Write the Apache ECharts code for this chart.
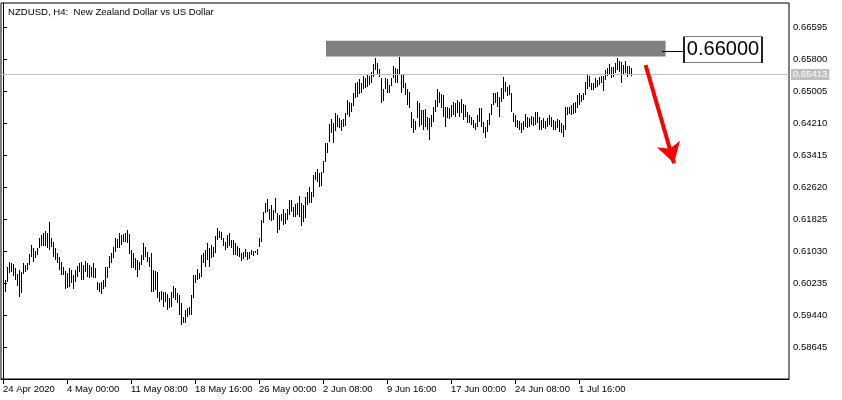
<!DOCTYPE html>
<html>
<head>
<meta charset="utf-8">
<script src="https://cdn.jsdelivr.net/npm/echarts@6/dist/echarts.min.js"></script>
<style>
html,body{margin:0;padding:0;background:#fff;}
#c{width:842px;height:400px;}
</style>
</head>
<body>
<div id="c"></div>
<script>
const chartTitle = 'NZDUSD, H4:  New Zealand Dollar vs US Dollar';
const xTickPos = [0, 32, 64, 96, 128, 160, 192, 224, 256, 288];
const xTickLabels = ['24 Apr 2020', '4 May 00:00', '11 May 08:00', '18 May 16:00', '26 May 00:00', '2 Jun 08:00', '9 Jun 16:00', '17 Jun 00:00', '24 Jun 08:00', '1 Jul 16:00'];
const yTicks = [0.58645, 0.59440, 0.60235, 0.61030, 0.61825, 0.62620, 0.63415, 0.64210, 0.65005, 0.65800, 0.66595];
const lastPrice = 0.65413;
const levelPrice = 0.66000;
const levelLabel = '0.66000';

const high = [
0.6019,0.6031,0.6063,0.6076,0.6073,0.6071,0.6061,0.6046,0.6056,0.6051,
0.6073,0.6068,0.6073,0.6096,0.6118,0.6111,0.6103,0.6111,0.6135,0.6143,
0.6148,0.6153,0.6148,0.6175,0.6135,0.6125,0.6111,0.6098,0.6088,0.6076,
0.6063,0.6053,0.6048,0.6061,0.6056,0.6043,0.6056,0.6066,0.6073,0.6076,
0.6068,0.6078,0.6073,0.6068,0.6063,0.6073,0.6061,0.6026,0.6024,0.6026,
0.6031,0.6063,0.6063,0.6091,0.6098,0.6113,0.6135,0.6133,0.6148,0.6143,
0.6145,0.6148,0.6155,0.6145,0.6106,0.6098,0.6086,0.6081,0.6076,0.6093,
0.6123,0.6113,0.6101,0.6088,0.6098,0.6056,0.6053,0.6051,0.6001,0.6004,
0.6001,0.6001,0.5996,0.5986,0.6001,0.6016,0.6011,0.5999,0.5994,0.5974,
0.5939,0.5957,0.5962,0.5964,0.5994,0.6043,0.6043,0.6058,0.6048,0.6093,
0.6098,0.6106,0.6123,0.6111,0.6118,0.6113,0.6140,0.6160,0.6153,0.6150,
0.6135,0.6125,0.6143,0.6148,0.6130,0.6130,0.6123,0.6116,0.6111,0.6098,
0.6101,0.6108,0.6101,0.6101,0.6106,0.6103,0.6103,0.6108,0.6135,0.6180,
0.6200,0.6222,0.6232,0.6207,0.6217,0.6205,0.6235,0.6198,0.6193,0.6195,
0.6207,0.6198,0.6207,0.6230,0.6230,0.6212,0.6220,0.6222,0.6240,0.6222,
0.6217,0.6237,0.6250,0.6262,0.6250,0.6292,0.6299,0.6307,0.6297,0.6299,
0.6327,0.6371,0.6371,0.6419,0.6431,0.6421,0.6446,0.6441,0.6433,0.6429,
0.6431,0.6446,0.6478,0.6473,0.6471,0.6496,0.6520,0.6523,0.6530,0.6520,
0.6538,0.6533,0.6540,0.6538,0.6548,0.6568,0.6583,0.6570,0.6555,0.6533,
0.6506,0.6533,0.6530,0.6515,0.6533,0.6563,0.6558,0.6555,0.6585,0.6540,
0.6540,0.6520,0.6506,0.6498,0.6448,0.6431,0.6426,0.6476,0.6471,0.6453,
0.6453,0.6456,0.6436,0.6433,0.6441,0.6461,0.6478,0.6506,0.6498,0.6493,
0.6491,0.6461,0.6461,0.6458,0.6466,0.6473,0.6471,0.6478,0.6473,0.6481,
0.6468,0.6466,0.6448,0.6441,0.6436,0.6429,0.6421,0.6441,0.6458,0.6458,
0.6424,0.6411,0.6429,0.6446,0.6468,0.6496,0.6496,0.6498,0.6486,0.6508,
0.6535,0.6523,0.6510,0.6515,0.6496,0.6446,0.6441,0.6429,0.6426,0.6421,
0.6426,0.6443,0.6436,0.6433,0.6438,0.6436,0.6448,0.6448,0.6436,0.6429,
0.6433,0.6426,0.6433,0.6441,0.6436,0.6429,0.6426,0.6431,0.6429,0.6421,
0.6416,0.6461,0.6461,0.6461,0.6466,0.6471,0.6473,0.6491,0.6496,0.6491,
0.6496,0.6523,0.6540,0.6538,0.6520,0.6520,0.6533,0.6528,0.6535,0.6538,
0.6538,0.6553,0.6558,0.6568,0.6560,0.6560,0.6570,0.6583,0.6575,0.6573,
0.6565,0.6575,0.6563,0.6563,0.6558
];
const low = [
0.5994,0.6001,0.6026,0.6048,0.6051,0.6041,0.6031,0.6016,0.5989,0.5999,
0.6046,0.6051,0.6056,0.6068,0.6088,0.6076,0.6086,0.6093,0.6111,0.6116,
0.6116,0.6116,0.6111,0.6106,0.6113,0.6088,0.6081,0.6073,0.6056,0.6043,
0.6043,0.6009,0.6011,0.6014,0.6024,0.6009,0.6026,0.6039,0.6051,0.6031,
0.6031,0.6051,0.6039,0.6036,0.6039,0.6036,0.6036,0.6006,0.6001,0.5996,
0.6009,0.6014,0.6036,0.6061,0.6073,0.6086,0.6101,0.6111,0.6111,0.6118,
0.6125,0.6125,0.6123,0.6096,0.6061,0.6061,0.6056,0.6039,0.6056,0.6068,
0.6081,0.6088,0.6076,0.6063,0.6001,0.6001,0.6006,0.5986,0.5976,0.5981,
0.5964,0.5976,0.5957,0.5962,0.5964,0.5986,0.5981,0.5974,0.5944,0.5919,
0.5924,0.5924,0.5939,0.5944,0.5944,0.5986,0.6024,0.6031,0.6034,0.6039,
0.6073,0.6063,0.6081,0.6063,0.6086,0.6088,0.6098,0.6130,0.6135,0.6130,
0.6116,0.6106,0.6111,0.6116,0.6111,0.6093,0.6093,0.6091,0.6088,0.6078,
0.6083,0.6088,0.6081,0.6083,0.6093,0.6091,0.6098,0.6093,0.6113,0.6125,
0.6173,0.6198,0.6200,0.6180,0.6178,0.6180,0.6198,0.6148,0.6155,0.6178,
0.6168,0.6170,0.6180,0.6193,0.6200,0.6188,0.6188,0.6193,0.6188,0.6165,
0.6175,0.6185,0.6217,0.6222,0.6222,0.6237,0.6279,0.6275,0.6262,0.6265,
0.6297,0.6324,0.6347,0.6374,0.6396,0.6371,0.6401,0.6411,0.6409,0.6401,
0.6411,0.6414,0.6441,0.6436,0.6448,0.6463,0.6483,0.6486,0.6493,0.6496,
0.6506,0.6508,0.6510,0.6515,0.6520,0.6535,0.6553,0.6543,0.6535,0.6471,
0.6476,0.6506,0.6496,0.6496,0.6513,0.6533,0.6520,0.6520,0.6543,0.6496,
0.6508,0.6491,0.6466,0.6458,0.6409,0.6396,0.6404,0.6433,0.6411,0.6416,
0.6404,0.6411,0.6404,0.6379,0.6411,0.6424,0.6448,0.6461,0.6471,0.6458,
0.6436,0.6411,0.6433,0.6431,0.6436,0.6441,0.6436,0.6446,0.6436,0.6446,
0.6429,0.6436,0.6421,0.6421,0.6416,0.6409,0.6404,0.6411,0.6424,0.6411,
0.6396,0.6384,0.6399,0.6416,0.6441,0.6466,0.6471,0.6461,0.6436,0.6473,
0.6481,0.6498,0.6488,0.6491,0.6448,0.6424,0.6411,0.6409,0.6404,0.6396,
0.6404,0.6411,0.6409,0.6411,0.6416,0.6414,0.6416,0.6421,0.6404,0.6404,
0.6409,0.6406,0.6411,0.6416,0.6411,0.6404,0.6404,0.6409,0.6399,0.6396,
0.6386,0.6404,0.6441,0.6443,0.6441,0.6443,0.6446,0.6458,0.6466,0.6473,
0.6478,0.6491,0.6506,0.6510,0.6503,0.6503,0.6508,0.6510,0.6515,0.6520,
0.6501,0.6528,0.6538,0.6543,0.6533,0.6535,0.6545,0.6553,0.6548,0.6520,
0.6540,0.6545,0.6535,0.6540,0.6538
];

const FONT = 'Liberation Sans, Arial, sans-serif';
const chart = echarts.init(document.getElementById('c'));
const data = high.map((h, i) => [i, h, low[i]]);

chart.setOption({
  animation: false,
  backgroundColor: '#fff',
  title: {
    text: chartTitle,
    left: 3, top: 2,
    textStyle: {fontSize: 9.6, fontWeight: 'normal', color: '#000', fontFamily: FONT}
  },
  grid: {left: 1, right: 53, top: 3, bottom: 21, show: true, borderColor: '#000', borderWidth: 1, backgroundColor: 'transparent'},
  xAxis: {
    type: 'value', min: -1, max: 393,
    splitLine: {show: false},
    axisLine: {show: true, lineStyle: {color: '#000'}},
    axisTick: {show: true, customValues: xTickPos, length: 5, lineStyle: {color: '#000'}},
    axisLabel: {
      customValues: xTickPos, align: 'left', margin: 5,
      fontSize: 9.5, color: '#000', fontFamily: FONT,
      formatter: v => xTickLabels[xTickPos.indexOf(Math.round(v))] || ''
    }
  },
  yAxis: {
    type: 'value', position: 'right', min: 0.5785, max: 0.6719, scale: true,
    splitLine: {show: false},
    axisLine: {show: true, lineStyle: {color: '#000'}},
    axisTick: {show: true, customValues: yTicks, length: 4, lineStyle: {color: '#000'}},
    axisLabel: {
      customValues: yTicks, margin: 4,
      fontSize: 9.5, color: '#000', fontFamily: FONT,
      formatter: v => v.toFixed(5)
    }
  },
  series: [{
    type: 'custom',
    data: data,
    encode: {x: 0, y: [1, 2]},
    clip: false,
    renderItem: function (params, api) {
      const i = api.value(0);
      const a = api.coord([i, api.value(1)]);
      const b = api.coord([i, api.value(2)]);
      const x = Math.round(a[0]) + 0.5;
      return {
        type: 'line',
        shape: {x1: x, y1: Math.round(a[1]), x2: x, y2: Math.round(b[1])},
        style: {stroke: '#000', lineWidth: 1}
      };
    },
    markArea: {
      silent: true,
      itemStyle: {color: '#808080', opacity: 1},
      data: [[{coord: [161.5, 0.6625]}, {coord: [331.3, 0.6586]}]]
    },
    markLine: {
      silent: true,
      symbol: 'none',
      precision: 5,
      data: [
        {
          yAxis: lastPrice,
          lineStyle: {color: '#c0c0c0', width: 1, type: 'solid'},
          label: {
            show: true, position: 'end', distance: 2,
            formatter: () => lastPrice.toFixed(5),
            backgroundColor: '#c0c0c0', color: '#fff', padding: [1, 2, 0, 2],
            fontSize: 9.5, fontFamily: FONT
          }
        },
        [
          {coord: [329.5, levelPrice], lineStyle: {color: '#000', width: 1, type: 'solid'}, label: {show: false}},
          {coord: [340.5, levelPrice]}
        ],
        [
          {coord: [321.3, 0.6565], symbol: 'none', lineStyle: {color: '#ff0000', width: 4, type: 'solid'}, label: {show: false}},
          {coord: [335.5, 0.6321], symbol: 'arrow', symbolSize: [18, 20]}
        ]
      ]
    },
    markPoint: {
      silent: true,
      data: [{
        coord: [360, 0.6603],
        symbol: 'rect', symbolSize: [78, 26],
        itemStyle: {color: '#fff', borderColor: '#000', borderWidth: 1},
        label: {show: true, position: 'inside', formatter: levelLabel, color: '#000', fontSize: 20, fontFamily: FONT}
      }]
    }
  }]
});
</script>
</body>
</html>
